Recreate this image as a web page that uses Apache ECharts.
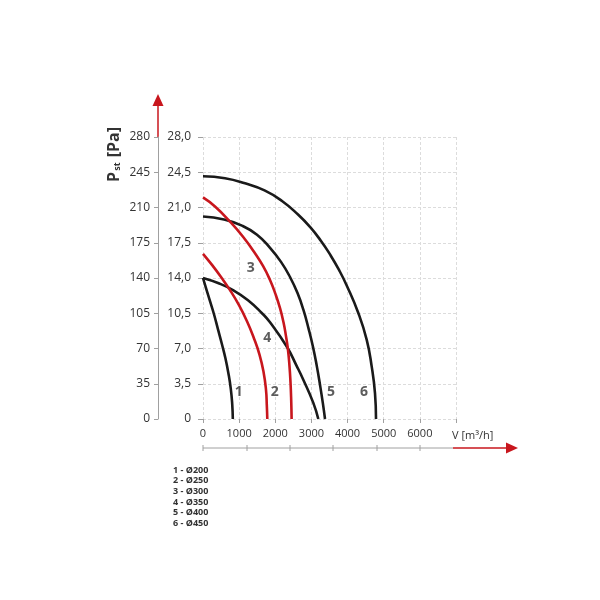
<!DOCTYPE html>
<html>
<head>
<meta charset="utf-8">
<script src="https://cdn.jsdelivr.net/npm/echarts@6/dist/echarts.min.js"></script>
<style>html,body{margin:0;padding:0;background:#fff}#c{width:600px;height:600px}</style>
</head>
<body>
<div id="c"></div>
<script>
// ---- data ----
const xTicks = [0, 1000, 2000, 3000, 4000, 5000, 6000, 7000];
const yTicks = [0, 3.5, 7, 10.5, 14, 17.5, 21, 24.5, 28];
const paTicks = [0, 35, 70, 105, 140, 175, 210, 245, 280];
const curveNames = ['1', '2', '3', '4', '5', '6'];
const diameters = ['Ø200', 'Ø250', 'Ø300', 'Ø350', 'Ø400', 'Ø450'];
const curve1 = [[0,14.0],[83,13.0],[194,11.7],[304,10.4],[415,8.9],[526,7.4],[622,6.0],[705,4.5],[769,3.0],[808,1.5],[825,0]];
const curve2 = [[0,16.4],[249,15.3],[498,14.1],[747,12.8],[996,11.3],[1217,9.7],[1411,8.0],[1563,6.4],[1674,4.7],[1743,2.9],[1765,1.4],[1779,0]];
const curve3 = [[0,22.0],[332,21.1],[747,19.6],[1107,18.1],[1411,16.6],[1660,15.2],[1854,13.8],[2006,12.4],[2131,11.0],[2227,9.6],[2297,8.2],[2352,6.85],[2393,5.25],[2421,3.65],[2440,1.9],[2452,0]];
const curve4 = [[0,14.0],[415,13.5],[830,12.8],[1245,11.8],[1633,10.5],[1854,9.6],[2316,7.2],[2587,5.3],[2775,3.9],[3052,1.6],[3190,0]];
const curve5 = [[0,20.1],[581,19.8],[1079,19.2],[1494,18.3],[1854,17.0],[2158,15.6],[2407,14.1],[2615,12.5],[2781,10.8],[2919,9.0],[3044,7.15],[3149,5.25],[3237,3.4],[3315,1.6],[3376,0]];
const curve6 = [[0,24.1],[609,23.9],[1162,23.4],[1702,22.7],[2186,21.65],[2629,20.3],[2961,19.07],[3265,17.68],[3514,16.34],[3763,14.8],[3976,13.26],[4297,10.53],[4530,7.85],[4668,5.2],[4759,2.55],[4787,0]];
const curveColors = ['#1a1a1a', '#c8161d', '#c8161d', '#1a1a1a', '#1a1a1a', '#1a1a1a'];
const labelPos = [[988,2.7],[1984,2.7],[1320,15.0],[1779,8.0],[3542,2.7],[4455,2.7]];

const curves = [curve1, curve2, curve3, curve4, curve5, curve6];
const FONT = '"Open Sans", sans-serif';
const chart = echarts.init(document.getElementById('c'));

const series = curves.map((d, i) => ({
  type: 'line', data: d, smooth: 0.5, symbol: 'none',
  lineStyle: { color: curveColors[i], width: 2.6 }, z: i === 1 || i === 2 ? 3 : 2
}));
series.push({
  type: 'scatter', symbolSize: 0,
  data: labelPos.map((p, i) => ({ value: p, name: curveNames[i] })),
  label: { show: true, formatter: p => p.name, color: '#333', fontSize: 14, fontWeight: 'bold', fontFamily: FONT },
  z: 5
});

const legendText = curveNames.map((n, i) => n + ' - ' + diameters[i]).join('\n');

const gray = '#a0a0a0';
const red = '#c8161d';
const bottomTicksX = [203, 247, 290, 333, 377, 420];

chart.setOption({
  animation: false,
  grid: { left: 203, right: 144, top: 137, bottom: 181 },
  xAxis: {
    type: 'value', min: 0, max: 7000, interval: 1000,
    axisLine: { show: false },
    axisTick: { show: true, length: 4, lineStyle: { color: gray } },
    splitLine: { show: true, lineStyle: { color: '#dcdcdc', type: [3, 2], width: 1 } },
    axisLabel: { color: '#333', fontSize: 11, fontFamily: FONT, margin: 9,
      formatter: v => v === 7000 ? '' : String(v) },
    name: 'V [m³/h]', nameLocation: 'end', nameGap: -4,
    nameTextStyle: { color: '#333', fontSize: 11, fontFamily: FONT, align: 'left', verticalAlign: 'top', padding: [11, 0, 0, 0] }
  },
  yAxis: [{
    type: 'value', min: 0, max: 28, interval: 3.5, position: 'left',
    axisLine: { show: false },
    axisTick: { show: true, length: 5, lineStyle: { color: gray } },
    splitLine: { show: true, lineStyle: { color: '#dcdcdc', type: [3, 2], width: 1 } },
    axisLabel: { color: '#333', fontSize: 12, fontFamily: FONT, margin: 12,
      formatter: v => v === 0 ? '0' : v.toFixed(1).replace('.', ',') }
  }, {
    type: 'value', min: 0, max: 280, interval: 35, position: 'left', offset: 45,
    axisLine: { show: true, lineStyle: { color: gray, width: 1 } },
    axisTick: { show: true, length: 4, lineStyle: { color: gray } },
    splitLine: { show: false },
    axisLabel: { color: '#333', fontSize: 12, fontFamily: FONT, margin: 8 }
  }],
  series: series,
  graphic: [
    { type: 'line', shape: { x1: 158, y1: 137, x2: 158, y2: 104 }, style: { stroke: red, lineWidth: 1.5 } },
    { type: 'polygon', shape: { points: [[158, 94], [152.5, 106], [163.5, 106]] }, style: { fill: red } },
    { type: 'line', shape: { x1: 203, y1: 448, x2: 453, y2: 448 }, style: { stroke: gray, lineWidth: 1 } },
    ...bottomTicksX.map(x => ({ type: 'line', shape: { x1: x, y1: 445, x2: x, y2: 451 }, style: { stroke: gray, lineWidth: 1 } })),
    { type: 'line', shape: { x1: 453, y1: 448, x2: 508, y2: 448 }, style: { stroke: red, lineWidth: 1.5 } },
    { type: 'polygon', shape: { points: [[518, 448], [506, 442.5], [506, 453.5]] }, style: { fill: red } },
    { type: 'text', left: 106, top: 127, rotation: Math.PI / 2,
      style: { text: '{b|P}{s|st}{b| [Pa]}', rich: {
        b: { fontSize: 16, fontWeight: 'bold', fill: '#333', fontFamily: FONT },
        s: { fontSize: 9, fontWeight: 'bold', fill: '#333', fontFamily: FONT, verticalAlign: 'bottom', padding: [7, 1, 0, 1] }
      } } },
    { type: 'text', left: 173, top: 465,
      style: { text: legendText, fontSize: 9, fontWeight: 'bold', fill: '#333', fontFamily: FONT, lineHeight: 10.6 } }
  ]
});
</script>
</body>
</html>
